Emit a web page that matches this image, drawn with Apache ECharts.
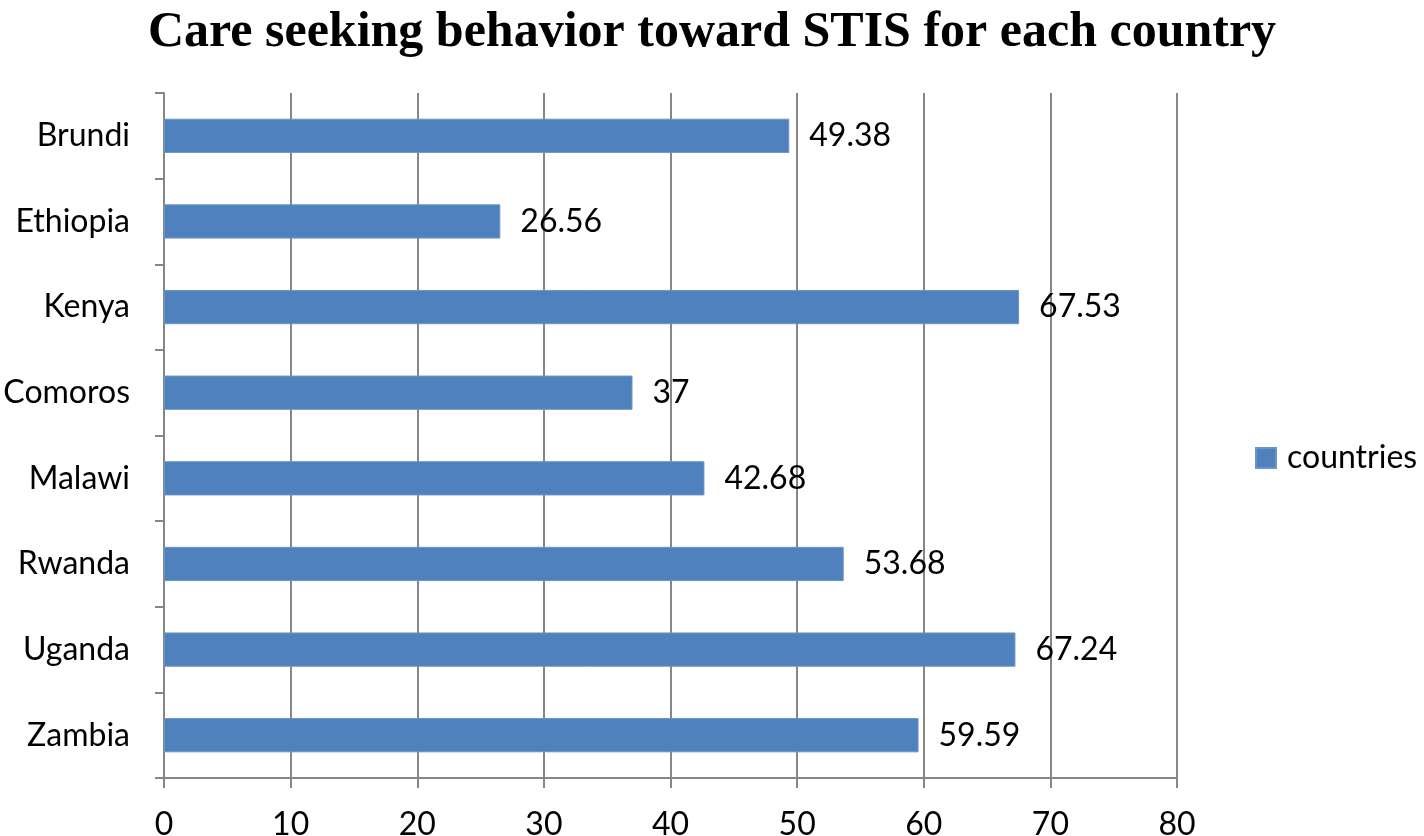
<!DOCTYPE html>
<html><head><meta charset="utf-8">
<script src="https://cdn.jsdelivr.net/npm/echarts@6/dist/echarts.min.js"></script>
<style>html,body{margin:0;padding:0;background:#fff}#c{width:1424px;height:836px}</style>
</head><body><div id="c"></div>
<script>
const categories = ['Brundi', 'Ethiopia', 'Kenya', 'Comoros', 'Malawi', 'Rwanda', 'Uganda', 'Zambia'];
const values = [49.38, 26.56, 67.53, 37, 42.68, 53.68, 67.24, 59.59];
const valueLabels = ['49.38', '26.56', '67.53', '37', '42.68', '53.68', '67.24', '59.59'];
const xTicks = [0, 10, 20, 30, 40, 50, 60, 70, 80];
const seriesName = 'countries';
const titleText = 'Care seeking behavior toward STIS for each country';

const chart = echarts.init(document.getElementById('c'), null, {renderer: 'canvas'});
const font = 'Lato, "Open Sans", sans-serif';
chart.setOption({
  animation: false,
  title: {
    text: titleText, left: 'center', top: 3,
    textStyle: {fontFamily: '"Liberation Serif", "Times New Roman", serif', fontWeight: 'bold', fontSize: 50, color: '#000'}
  },
  legend: {
    data: [seriesName], orient: 'vertical', left: 1250, top: 437,
    icon: 'rect', itemWidth: 20, itemHeight: 20, itemGap: 10,
    textStyle: {fontFamily: font, fontSize: 32, color: '#000', padding: [0, 0, 0, 6]}
  },
  grid: {left: 164, right: 247, top: 93, bottom: 58, containLabel: false, outerBoundsMode: 'none'},
  xAxis: {
    type: 'value', min: xTicks[0], max: xTicks[xTicks.length - 1], interval: 10,
    axisLine: {show: true, lineStyle: {color: '#868686', width: 2}},
    axisTick: {show: true, length: 10, lineStyle: {color: '#868686', width: 2}},
    axisLabel: {fontFamily: font, fontSize: 32, color: '#000', margin: 31},
    splitLine: {show: true, lineStyle: {color: '#868686', width: 2}}
  },
  yAxis: {
    type: 'category', data: categories, inverse: true,
    axisLine: {show: true, lineStyle: {color: '#868686', width: 2}},
    axisTick: {show: true, length: 9, lineStyle: {color: '#868686', width: 2}},
    axisLabel: {fontFamily: font, fontSize: 32, color: '#000', margin: 34}
  },
  series: [{
    name: seriesName, type: 'bar', data: values, barWidth: '40%',
    itemStyle: {color: '#4F81BD', borderColor: '#6b95c8', borderWidth: 1},
    label: {
      show: true, position: 'right', distance: 20,
      fontFamily: font, fontSize: 32, color: '#000',
      formatter: p => valueLabels[p.dataIndex]
    }
  }]
});
</script></body></html>
